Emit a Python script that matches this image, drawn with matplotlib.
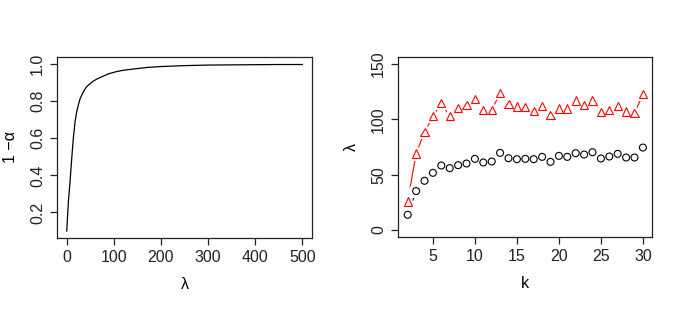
import matplotlib
matplotlib.use("Agg")
import matplotlib.pyplot as plt
import matplotlib.patheffects as pe

plt.rcParams['font.family'] = ['Liberation Sans', 'DejaVu Sans']

# Left panel: 1 - alpha as a function of lambda
lam = [0, 2, 3.5, 7, 10.6, 14, 17.7, 21, 24.7, 28, 32, 37, 42.6, 50, 56.6, 65,
       78, 90, 106, 120, 142, 170, 200, 250, 300, 350, 400, 450, 500]
one_minus_alpha = [0.10, 0.19, 0.257, 0.365, 0.49, 0.599, 0.689, 0.74, 0.779,
                   0.81, 0.833, 0.858, 0.878, 0.895, 0.908, 0.92, 0.935, 0.948,
                   0.959, 0.966, 0.973, 0.981, 0.986, 0.991, 0.994, 0.995,
                   0.996, 0.997, 0.997]

# Right panel: lambda vs k
k = list(range(2, 31))
lam_red = [25.8, 69.1, 88.4, 102.8, 114.5, 102.8, 110.0, 112.7, 118.4, 108.5,
           108.5, 123.5, 113.6, 111.5, 110.9, 107.3, 111.8, 104.0, 109.7, 109.7,
           116.9, 112.7, 116.9, 106.7, 108.5, 112.1, 107.0, 105.5, 122.6]
lam_black = [13.8, 35.2, 44.5, 51.7, 58.3, 55.9, 58.6, 60.1, 64.3, 61.0, 61.9,
             69.7, 64.9, 64.0, 64.3, 64.0, 66.1, 61.6, 67.0, 66.1, 69.4, 68.2,
             70.3, 64.6, 66.4, 68.8, 65.5, 65.5, 74.5]

left_xticks = [0, 100, 200, 300, 400, 500]
left_yticks = [0.2, 0.4, 0.6, 0.8, 1.0]
right_xticks = [5, 10, 15, 20, 25, 30]
right_yticks = [0, 50, 100, 150]

W, H = 682, 309
fig = plt.figure(figsize=(W / 100, H / 100), dpi=100)

def frac(l, t, r, b):
    return [l / W, 1 - b / H, (r - l) / W, (b - t) / H]

fs = 11.5

def style(ax):
    for s in ax.spines.values():
        s.set_linewidth(0.9)
        s.set_color('#222222')
    ax.tick_params(axis='both', length=5.2, width=0.9, pad=3.5,
                   labelsize=fs, colors='#222222')
    for lab in ax.get_yticklabels():
        lab.set_rotation(90)
        lab.set_va('center')

ax1 = fig.add_axes(frac(57.3, 57.3, 311.7, 237.7))
ax1.plot(lam, one_minus_alpha, color='black', lw=0.9)
ax1.set_xlim(-20, 520)
ax1.set_ylim(0.0642, 1.0358)
ax1.set_xticks(left_xticks)
ax1.set_xticklabels([str(v) for v in left_xticks])
ax1.set_yticks(left_yticks)
ax1.set_yticklabels(['0.2', '0.4', '0.6', '0.8', '1.0'])
style(ax1)
ax1.set_xlabel('λ', fontsize=fs, labelpad=9)
ax1.set_ylabel('1 −α', fontsize=fs, labelpad=9)

ax2 = fig.add_axes(frac(398.3, 57.3, 652.3, 236.7))
ax2.plot(k, lam_red, color='red', lw=0.8, ls='-')
ax2.plot(k, lam_black, color='black', lw=0.8, ls='-')
ax2.plot(k, lam_red, ls='none', marker='^', ms=6, mfc='white', mec='red',
         mew=0.8, path_effects=[pe.Stroke(linewidth=4.2, foreground='white'), pe.Normal()])
ax2.plot(k, lam_black, ls='none', marker='o', ms=5, mfc='white', mec='black',
         mew=0.8, path_effects=[pe.Stroke(linewidth=5.5, foreground='white'), pe.Normal()])
ax2.set_xlim(0.88, 31.12)
ax2.set_ylim(-6, 156)
ax2.set_xticks(right_xticks)
ax2.set_xticklabels([str(v) for v in right_xticks])
ax2.set_yticks(right_yticks)
ax2.set_yticklabels([str(v) for v in right_yticks])
style(ax2)
ax2.set_xlabel('k', fontsize=fs, labelpad=9)
ax2.set_ylabel('λ', fontsize=fs, labelpad=9)

fig.savefig('out.png', dpi=100)
